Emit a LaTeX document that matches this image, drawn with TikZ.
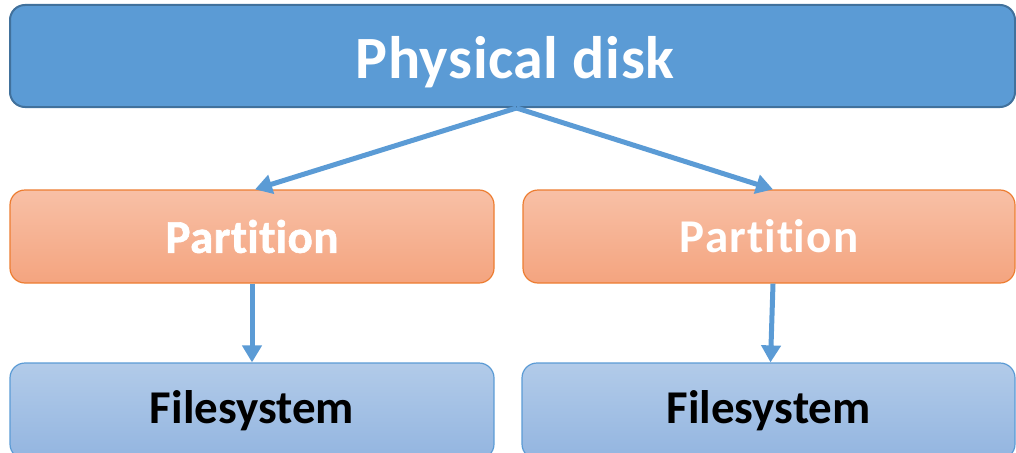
\documentclass[tikz,border=0pt]{standalone}
\usepackage{fontspec}
\setmainfont{Carlito}[Ligatures={NoCommon,NoRare}, Contextuals={NoAlternate}]
\newfontfamily\heavyfont{Carlito Bold}[FakeBold=1.2, Ligatures={NoCommon,NoRare}, Contextuals={NoAlternate}]
\usetikzlibrary{arrows.meta}
% "Partition" with the t-i pairs set as separate letters
\newcommand\partword{Part\kern0pt it\kern0pt ion}
\definecolor{diskfill}{HTML}{5B9BD5}
\definecolor{diskline}{HTML}{41719C}
\definecolor{parttop}{HTML}{F8C0A6}
\definecolor{partbot}{HTML}{F4A47F}
\definecolor{partline}{HTML}{ED7D31}
\definecolor{fstop}{HTML}{B2CBE9}
\definecolor{fsbot}{HTML}{93B5E0}
\definecolor{fsline}{HTML}{5B9BD5}
\definecolor{arrowcol}{HTML}{5B9BD5}
\tikzset{
  diskbox/.style={draw=diskline, line width=2pt, fill=diskfill, rounded corners=15pt},
  partbox/.style={draw=partline, line width=1.2pt, top color=parttop, bottom color=partbot,
    rounded corners=15pt, text=white, font=\bfseries\fontsize{47}{50}\selectfont},
  fsbox/.style={draw=fsline, line width=1.2pt, top color=fstop, bottom color=fsbot,
    rounded corners=15pt, text=black, font=\bfseries\fontsize{47}{50}\selectfont},
  link/.style={draw=arrowcol, line width=5pt, -{Triangle[width=19pt,length=17pt]}}
}
\begin{document}
\begin{tikzpicture}[x=1pt,y=-1pt]
  \useasboundingbox (0,0) rectangle (1016,452);
  \node[diskbox, minimum width=1005pt, minimum height=102pt] (disk) at (512.5,56) {};
  \node[text=white, font=\bfseries\fontsize{60}{64}\selectfont] (disklabel) at (515,62) {\addfontfeature{LetterSpace=1}Physical disk};
  \node[partbox, minimum width=484pt, minimum height=93pt] (pl) at (252,236.5) {\heavyfont\addfontfeature{LetterSpace=1}\partword};
  \node[partbox, minimum width=492pt, minimum height=93pt] (pr) at (769,236.5) {\addfontfeature{LetterSpace=3}\partword};
  \node[fsbox, minimum width=484pt, minimum height=96pt, yshift=-2pt] (fl) at (252,409) {Filesystem};
  \node[fsbox, minimum width=493pt, minimum height=96pt, yshift=-2pt] (fr) at (768.5,409) {Filesystem};
  \coordinate (split) at ([xshift=4pt]disk.south);
  \draw[link] (split) -- ([xshift=3pt]pl.north);
  \draw[link] (split) -- ([xshift=4pt]pr.north);
  \draw[link] (pl.south) -- (fl.north);
  \draw[link] ([xshift=4pt]pr.south) -- ([xshift=2pt]fr.north);
\end{tikzpicture}
\end{document}
